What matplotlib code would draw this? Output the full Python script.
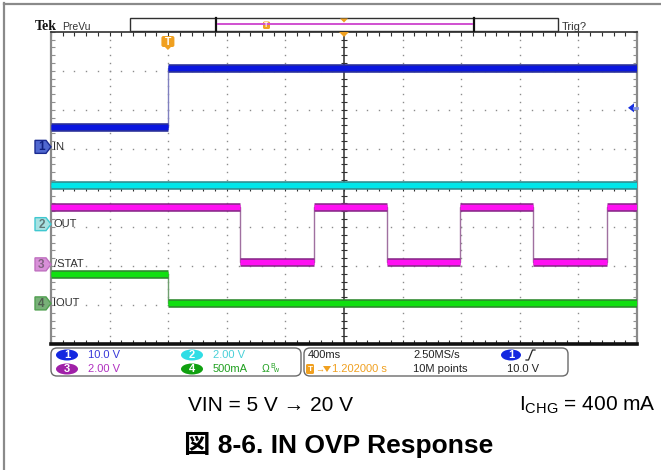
import matplotlib
matplotlib.use('Agg')
import matplotlib.pyplot as plt
from matplotlib.patches import FancyBboxPatch, Polygon, Ellipse, Rectangle
import numpy as np

plt.rcParams['font.family'] = ['Liberation Sans', 'DejaVu Sans']
plt.rcParams['mathtext.fontset'] = 'custom'
plt.rcParams['mathtext.rm'] = 'Liberation Sans'

W, H = 661, 470

# ---------------- data ----------------
time_per_div = 0.4            # s / div (400 ms)
trigger_time = 0.798          # s from left edge of screen
channel_labels = ['IN', 'OUT', '/STAT', 'IOUT']
channel_scales = [10.0, 2.0, 2.0, 500.0]      # V/div, V/div, V/div, mA/div
channel_offsets = [5.05, 3.07, 2.04, 1.04]    # ground marker, divisions
trigger_level = 10.0                          # V on ch1

in_times = [0.0, 0.80, 4.0]
in_levels = [5.0, 20.2]
out_times = [0.0, 4.0]
out_levels = [2.03]
stat_times = [0.0, 1.29, 1.795, 2.293, 2.79, 3.29, 3.795, 4.0]
stat_levels = [2.92, 0.14, 2.92, 0.14, 2.92, 0.14, 2.92]
iout_times = [0.0, 0.80, 4.0]
iout_levels = [375.0, 0.0]

panel_row1 = ['10.0 V', '2.00 V']
panel_row2 = ['2.00 V', '500mA']
timebase_text = '400ms'
trig_pos_text = '1.202000 s'
sample_rate_text = '2.50MS/s'
record_text = '10M points'
trig_level_text = '10.0 V'
cond_left = 'VIN = 5 V \u2192 20 V'
cond_right = r'$\mathregular{I_{CHG}}$ = 400 mA'
caption = '\u56f3 8-6. IN OVP Response'

# --------------- figure ---------------
fig = plt.figure(figsize=(W / 100, H / 100), dpi=100)
fig.patch.set_facecolor('white')

gl, gr, gt, gb = 51, 637, 31.7, 344
ax = fig.add_axes([gl / W, 1 - gb / H, (gr - gl) / W, (gb - gt) / H])
ax.set_xlim(0, 10)
ax.set_ylim(0, 8)
ax.set_facecolor('white')
ax.set_xticks(np.arange(0, 10.01, 0.2))
ax.set_yticks(np.arange(0, 8.01, 0.2))
ax.tick_params(axis='both', which='both', direction='in', length=3, width=0.8,
               top=True, right=True, labelbottom=False, labelleft=False)
ax.tick_params(axis='x', colors='#303030')
ax.tick_params(axis='y', colors='#909090')
ax.spines['top'].set_color('#303030'); ax.spines['top'].set_linewidth(1.2)
ax.spines['bottom'].set_color('#101010'); ax.spines['bottom'].set_linewidth(2.6)
for s in ('left', 'right'):
    ax.spines[s].set_color('#8a8a8a'); ax.spines[s].set_linewidth(1.6)

# dotted graticule
minor = np.arange(0.2, 10, 0.2)
minor_y = np.arange(0.2, 8, 0.2)
for k in [1, 2, 3, 4, 6, 7, 8, 9]:
    ax.plot(np.full_like(minor_y, k), minor_y, ls='none', marker='s', ms=1.0,
            mec='none', mfc='#8c8c8c', zorder=1)
for k in [1, 2, 3, 5, 6, 7]:
    ax.plot(minor, np.full_like(minor, k), ls='none', marker='s', ms=1.0,
            mec='none', mfc='#8c8c8c', zorder=1)
# centre cross-hair with ticks
ax.axvline(5, color='#303030', lw=1.1, zorder=2)
ax.axhline(4, color='#303030', lw=1.1, zorder=2)
ax.plot(np.full_like(minor_y, 5), minor_y, ls='none', marker='_', ms=5, mew=0.8,
        color='#303030', zorder=2)
ax.plot(minor, np.full_like(minor, 4), ls='none', marker='|', ms=5, mew=0.8,
        color='#303030', zorder=2)


def draw_trace(times, levels, scale, offset, core, edge, vcol):
    xs = np.array(times) / time_per_div
    ys = [offset + v / scale for v in levels]
    sx = np.repeat(xs, 2)[1:-1]
    sy = np.repeat(ys, 2)
    ax.plot(sx, sy, color=vcol, lw=1.0, zorder=3)
    for i in range(len(levels)):
        ax.plot([xs[i], xs[i + 1]], [ys[i], ys[i]], color=edge, lw=6.2,
                solid_capstyle='butt', zorder=4)
        ax.plot([xs[i], xs[i + 1]], [ys[i], ys[i]], color=core, lw=3.8,
                solid_capstyle='butt', zorder=5)


draw_trace(out_times, out_levels, channel_scales[1], channel_offsets[1],
           '#00e6ea', '#2f8f92', '#70c0c0')
draw_trace(stat_times, stat_levels, channel_scales[2], channel_offsets[2],
           '#ff10f2', '#8c2a8c', '#a070a0')
draw_trace(iout_times, iout_levels, channel_scales[3], channel_offsets[3],
           '#10e010', '#2f8a2f', '#70a070')
draw_trace(in_times, in_levels, channel_scales[0], channel_offsets[0],
           '#0a16e0', '#2a309a', '#8080c0')

# --------------- overlay for scope chrome ---------------
ov = fig.add_axes([0, 0, 1, 1], zorder=5)
ov.set_xlim(0, W)
ov.set_ylim(H, 0)
ov.axis('off')
ov.patch.set_alpha(0)


def to_px(xd, yd):
    d = ax.transData.transform((xd, yd))
    return d[0], H - d[1]


# page border lines
ov.plot([4, 4], [3, H], color='#8a8a8a', lw=1.6)
ov.plot([4, W], [3.5, 3.5], color='#8a8a8a', lw=1.6)

# header
ov.text(35, 30, 'Tek', family='Liberation Serif', weight='bold', fontsize=10,
        color='#111111', va='baseline')
ov.text(62, 30, 'PreVu', fontsize=7.5, color='#333333', va='baseline')
ov.add_patch(Rectangle((130, 18), 428, 13, fc='white', ec='#303030', lw=1.0))
ov.plot([216, 216], [18, 31], color='#111111', lw=1.6)
ov.plot([474, 474], [18, 31], color='#111111', lw=1.6)
ov.plot([218, 472], [24, 24], color='#d050d0', lw=1.4)
ov.add_patch(FancyBboxPatch((263, 21.5), 7, 7.5, boxstyle='round,pad=0,rounding_size=1.5',
                            fc='#f0a020', ec='none'))
ov.text(266.5, 25.5, 'T', fontsize=5, color='white', ha='center', va='center', weight='bold')
ov.add_patch(Polygon([(340, 18.5), (348, 18.5), (344, 22.5)], fc='#f0a020', ec='none'))
ov.text(562, 29.5, 'Trig?', fontsize=8, color='#333333', va='baseline')

# trigger position marker at top of grid
tx, _ = to_px(trigger_time / time_per_div, 8)
cx, _ = to_px(5, 8)
ov.add_patch(Polygon([(cx - 5, 32), (cx + 5, 32), (cx, 37)], fc='#f0a020', ec='none'))
ov.add_patch(FancyBboxPatch((tx - 6.5, 36), 13, 11, boxstyle='round,pad=0,rounding_size=2',
                            fc='#f0a020', ec='none'))
ov.add_patch(Polygon([(tx - 3, 47), (tx + 3, 47), (tx, 50)], fc='#f0a020', ec='none'))
ov.text(tx, 41.8, 'T', fontsize=7.5, color='white', ha='center', va='center', weight='bold')

# trigger level marker on right edge
_, ty = to_px(10, channel_offsets[0] + trigger_level / channel_scales[0])
ov.add_patch(Polygon([(628, ty), (634, ty - 4.5), (634, ty + 4.5)], fc='#1830e0', ec='none'))
ov.plot([634, 637], [ty, ty], color='#8090e0', lw=2)

# channel ground markers
marker_style = [
    ('#5068d0', '#1a2a90', '#102080'),
    ('#a8e2e2', '#40c8d0', '#607878'),
    ('#d890d8', '#c070c0', '#806080'),
    ('#78b078', '#50a050', '#506050'),
]
for i, lab in enumerate(channel_labels):
    _, my = to_px(0, channel_offsets[i])
    fc, ec, tc = marker_style[i]
    ov.add_patch(Polygon([(35, my - 6.5), (46, my - 6.5), (51, my), (46, my + 6.5),
                          (35, my + 6.5)], fc=fc, ec=ec, lw=1.0))
    ov.text(41.5, my + 0.5, str(i + 1), fontsize=8.5, color=tc, ha='center', va='center',
            weight='bold')
    ov.text(53.5, my, lab, fontsize=8, color='#303030', va='center')

# bottom info panel
ov.add_patch(FancyBboxPatch((51, 348), 250, 28, boxstyle='round,pad=0,rounding_size=6',
                            fc='white', ec='#6a6a6a', lw=1.0))
ov.add_patch(FancyBboxPatch((304, 348), 264, 28, boxstyle='round,pad=0,rounding_size=6',
                            fc='white', ec='#6a6a6a', lw=1.0))

badge_cols = ['#1428e0', '#30dde5', '#a020a8', '#10a010']
text_cols = ['#3838d8', '#48d0d8', '#b030c0', '#20a020']
badge_pos = [(67, 355), (192, 355), (67, 369), (192, 369)]
vals = panel_row1 + panel_row2
for k in range(4):
    bx, by = badge_pos[k]
    ov.add_patch(Ellipse((bx, by), 22, 11, fc=badge_cols[k], ec='none'))
    ov.text(bx, by + 0.5, str(k + 1), fontsize=8, color='white', ha='center', va='center',
            weight='bold')
    ov.text(bx + 21, by + 0.5, vals[k], fontsize=8, color=text_cols[k], va='center')
ov.text(262, 369.5, '\u03a9', fontsize=7.5, color='#20a020', va='center')
ov.text(270, 367, 'B', fontsize=5, color='#20a020', va='center')
ov.text(273.5, 371, 'w', fontsize=5, color='#20a020', va='center')

ov.text(308, 355.5, timebase_text, fontsize=8, color='#222222', va='center')
ov.add_patch(FancyBboxPatch((306, 364), 8, 10, boxstyle='round,pad=0,rounding_size=1.5',
                            fc='#f0a020', ec='none'))
ov.text(310, 369.3, 'T', fontsize=6, color='white', ha='center', va='center', weight='bold')
ov.text(315, 369.5, '\u2192', fontsize=6.5, color='#f0a020', va='center')
ov.add_patch(Polygon([(323, 366), (331, 366), (327, 372)], fc='#f0a020', ec='none'))
ov.text(332, 369.5, trig_pos_text, fontsize=8, color='#f0a020', va='center')
ov.text(413, 355.5, sample_rate_text, fontsize=8, color='#222222', va='center')
ov.text(413, 369.5, record_text, fontsize=8, color='#222222', va='center')
ov.add_patch(Ellipse((511, 355), 20, 11, fc='#1428e0', ec='none'))
ov.text(511, 355.5, '1', fontsize=8, color='white', ha='center', va='center', weight='bold')
ov.plot([526, 528.5, 532.5, 535], [360, 360, 350, 350], color='#222222', lw=0.9)
ov.text(507, 369.5, trig_level_text, fontsize=8, color='#222222', va='center')

# conditions and caption
ov.text(188, 411, cond_left, fontsize=15, color='black', va='baseline')
ov.text(656, 411, cond_right, fontsize=15, color='black', va='baseline', ha='right')
ov.text(184, 453, caption, fontsize=19, weight='bold', color='black', va='baseline',
        family=['Liberation Sans', 'Noto Sans CJK JP'])

fig.savefig('out.png', dpi=100, facecolor='white')
